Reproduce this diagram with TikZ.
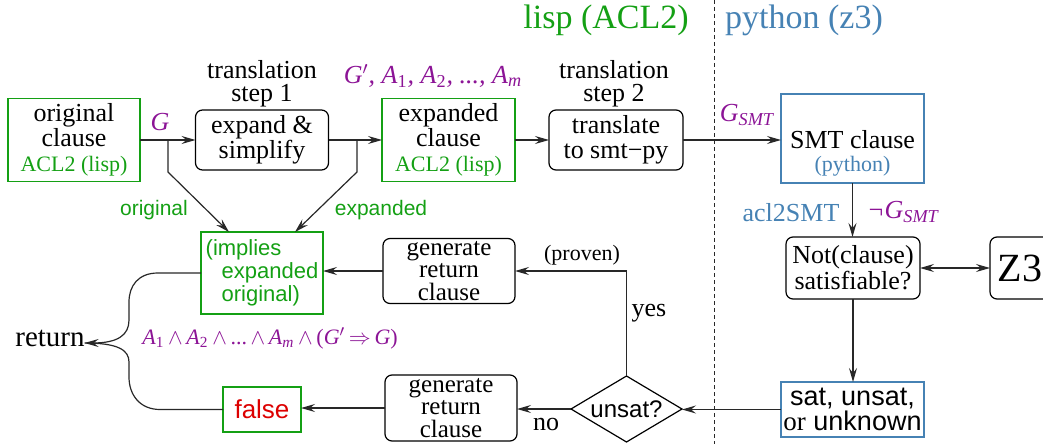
\documentclass[tikz,border=0pt]{standalone}
\usepackage{fontspec}
\setmainfont{Liberation Serif}
\setsansfont{Liberation Sans}
\usetikzlibrary{arrows.meta,shapes.geometric}
\definecolor{gr}{RGB}{20,160,20}
\definecolor{pu}{RGB}{140,20,150}
\definecolor{sb}{RGB}{70,130,180}
\definecolor{rd}{RGB}{220,0,0}
\definecolor{ln}{RGB}{40,40,40}
\newcommand\fs[2]{\fontsize{#1}{#2}\selectfont}
\newcommand\sbu[1]{\textsubscript{\upshape #1}}
\begin{document}
\begin{tikzpicture}[x=0.5pt,y=-0.5pt,
  >={Stealth[length=7pt,width=4pt,inset=2.5pt]},
  every node/.style={inner sep=0pt, outer sep=0pt},
  arr/.style={->, draw=ln, line width=0.6pt},
  conn/.style={draw=ln, line width=0.6pt},
  gbox/.style={draw=gr, line width=0.6pt, align=center, font=\fs{13}{12.5}},
  rbox/.style={draw=black, rounded corners=3.5pt, line width=0.6pt, align=center, font=\fs{13}{12.5}},
  bbox/.style={draw=sb, line width=0.6pt},
  lab/.style={align=center, font=\fs{13}{11.5}},
  mlab/.style={text=pu, font=\fs{13}{13}\itshape},
  glab/.style={text=gr, font=\sffamily\fs{10.5}{10.5}},
]
\useasboundingbox (0,0) rectangle (1043,444);

% header
\node[font=\fs{17}{17}, text=gr] (lisp) at (606,20) {lisp (ACL2)};
\node[font=\fs{17}{17}, text=sb] (py) at (804,20) {python (z3)};
\coordinate (dtop) at (714,0);
\coordinate (dbot) at (714,444);
\draw[ln, line width=0.5pt, dash pattern=on 2pt off 1.5pt] (dtop) -- (dbot);

% top row
\node[gbox, minimum width=66pt, minimum height=41.5pt] (orig) at (74,140)
  {original\\clause\\{\fs{11}{12.5}\color{gr}ACL2 (lisp)}};
\node[lab] (t1) at (262,84) {translation\\step 1};
\node[rbox, minimum width=66.5pt, minimum height=30pt] (exp1) at (262,140) {expand \&\\simplify};
\node[gbox, minimum width=66.5pt, minimum height=41.5pt] (expd) at (448.5,140)
  {expanded\\clause\\{\fs{11}{12.5}\color{gr}ACL2 (lisp)}};
\node[mlab] (gp) at (433,76) {G$'$, A\sbu{1}, A\sbu{2}, ..., A\textsubscript{m}};
\node[lab] (t2) at (614,84) {translation\\step 2};
\node[rbox, minimum width=67pt, minimum height=30pt] (tr) at (616,140) {translate\\to smt−py};
\node[bbox, minimum width=71.5pt, minimum height=44.5pt] (smt) at (852.5,138.5) {};
\node[align=center, font=\fs{13}{11.5}] (smtt) at (852.5,153) {SMT clause\\{\fs{11}{11.5}\color{sb}(python)}};
\node[mlab] (g) at (160,122) {G};
\node[mlab] (gs) at (747,115) {G\textsubscript{SMT}};
\node[glab] (lo) at (154,210) {original};
\node[glab] (le) at (381,210) {expanded};

% right column
\node[font=\fs{13}{13}, text=sb] (acl) at (791,213) {acl2SMT};
\node[mlab] (ngs) at (903,212) {¬G\textsubscript{SMT}};
\node[rbox, minimum width=67pt, minimum height=31pt, font=\fs{13}{13}] (notc) at (853,268) {Not(clause)\\satisfiable?};
\node[rbox, minimum width=30pt, minimum height=31pt, font=\fs{20}{20}] (z3) at (1020,268) {Z3};
\node[bbox, minimum width=71.5pt, minimum height=27.5pt, align=center, font=\sffamily\fs{13.5}{11}] (sat) at (852.5,409.5)
  {sat, unsat,\\{\rmfamily or} unknown};
\node[draw=black, line width=0.6pt, shape=diamond, aspect=1.68, minimum width=55.5pt, minimum height=33pt,
  font=\sffamily\fs{12}{12}] (uns) at (626.5,409) {unsat?};

% middle / bottom
\node[rbox, minimum width=66pt, minimum height=32.5pt, font=\fs{12.5}{11.3}] (gen1) at (449,271) {generate\\return\\clause};
\node[rbox, minimum width=66pt, minimum height=33pt, font=\fs{12.5}{11.3}] (gen2) at (451,408) {generate\\return\\clause};
\node[draw=gr, line width=0.6pt, minimum width=61pt, minimum height=41pt, align=left, text=gr,
  font=\sffamily\fs{11}{11.5}] (impl) at (262,273) {(implies\\\hspace*{8pt}expanded\\\hspace*{8pt}original)};
\node[draw=gr, line width=0.6pt, minimum width=39pt, minimum height=22.5pt, text=rd,
  font=\sffamily\fs{13}{13}] (fls) at (262,409.5) {false};
\node[font=\fs{14.5}{14.5}] (ret) at (50,338) {return};
\node[text=pu, font=\fs{11}{11}] (form) at (270,338)
  {\textit{A}\sbu{1}\,$\wedge$\,\textit{A}\sbu{2}\,$\wedge$\,...\,$\wedge$\,\textit{A\textsubscript{m}}\,$\wedge$\,(\textit{G}$'$\,$\Rightarrow$\,\textit{G})};
\node[font=\fs{11}{11}] (prv) at (582,255) {(proven)};
\node[font=\fs{13}{13}] (yes) at (649,313) {yes};
\node[font=\fs{13}{13}] (no) at (546,424) {no};

% connectors
\coordinate (b1) at (168,140);
\coordinate (b1k) at (168,172);
\coordinate (b2) at (357,140);
\coordinate (b2k) at (357,172);
\draw[arr] (orig) -- (exp1);
\draw[arr] (b1) -- (b1k) -- ([xshift=-16.5pt]impl.north);
\draw[arr] (exp1) -- (expd);
\draw[arr] (b2) -- (b2k) -- ([xshift=16.5pt]impl.north);
\draw[arr] (expd) -- (tr);
\draw[arr] (tr.east) -- (tr.east -| smt.west);
\draw[arr] (smt.south) -- (smt.south |- notc.north);
\draw[<->, draw=ln, line width=0.6pt] (notc) -- (z3);
\draw[arr] (notc.south) -- (notc.south |- sat.north);
\draw[arr] (sat.west) -- (sat.west -| uns.east);
\draw[arr] (uns.north) |- (gen1.east);
\draw[arr] (uns.west) -- (uns.west -| gen2.east);
\draw[arr] (gen1.west) -- (gen1.west -| impl.east);
\draw[arr] (gen2.west) -- (gen2.west -| fls.east);
\draw[arr] (impl.west) -- (158,273) .. controls (138,273) and (129,286) .. (129,302) -- (129,320)
  .. controls (129,335) and (118,343) .. ([yshift=-2.5pt]ret.east);
\draw[conn] (fls.west) -- (160,409.5) .. controls (140,409.5) and (129,395) .. (129,377) -- (129,362)
  .. controls (129,350) and (118,343) .. ([yshift=-2.5pt]ret.east);
\end{tikzpicture}
\end{document}
